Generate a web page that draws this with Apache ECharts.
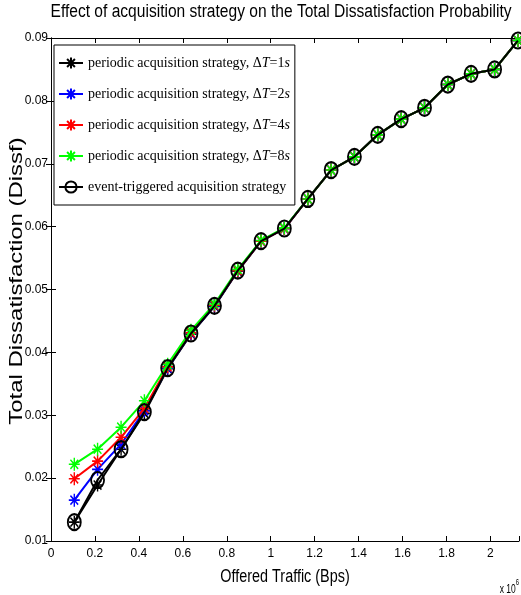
<!DOCTYPE html>
<html>
<head>
<meta charset="utf-8">
<script src="https://cdn.jsdelivr.net/npm/echarts@6/dist/echarts.min.js"></script>
<style>
  html, body { margin: 0; padding: 0; background: #fff; }
  #chart { width: 521px; height: 595px; }
</style>
</head>
<body>
<div id="chart"></div>
<script>
// offered traffic, in units of 10^6 Bps
var traffic = [0.106, 0.212, 0.319, 0.425, 0.531, 0.637, 0.744, 0.85, 0.956, 1.062,
               1.169, 1.275, 1.381, 1.487, 1.594, 1.7, 1.806, 1.912, 2.019, 2.125];

// total dissatisfaction per strategy
var periodic1 = [0.0130, 0.0189, 0.0246, 0.0303, 0.0374, 0.0429, 0.0473, 0.0529, 0.0577, 0.0597,
                 0.0644, 0.0690, 0.0711, 0.0746, 0.0771, 0.0789, 0.0826, 0.0843, 0.0850, 0.0896];
var periodic2 = [0.0165, 0.0214, 0.0254, 0.0307, 0.0375, 0.0430, 0.0474, 0.0530, 0.0577, 0.0597,
                 0.0644, 0.0690, 0.0711, 0.0746, 0.0771, 0.0789, 0.0826, 0.0843, 0.0850, 0.0896];
var periodic4 = [0.0199, 0.0227, 0.0265, 0.0311, 0.0377, 0.0431, 0.0475, 0.0530, 0.0577, 0.0597,
                 0.0644, 0.0690, 0.0711, 0.0746, 0.0771, 0.0789, 0.0826, 0.0843, 0.0850, 0.0896];
var periodic8 = [0.0222, 0.0246, 0.0281, 0.0323, 0.0381, 0.0435, 0.0477, 0.0532, 0.0578, 0.0598,
                 0.0644, 0.0690, 0.0711, 0.0746, 0.0771, 0.0789, 0.0826, 0.0843, 0.0850, 0.0896];
var eventTrig = [0.0130, 0.0197, 0.0246, 0.0305, 0.0375, 0.0430, 0.0474, 0.0530, 0.0577, 0.0597,
                 0.0644, 0.0690, 0.0711, 0.0746, 0.0771, 0.0789, 0.0826, 0.0843, 0.0850, 0.0896];

var seriesNames = [
  'periodic acquisition strategy, ΔT=1s',
  'periodic acquisition strategy, ΔT=2s',
  'periodic acquisition strategy, ΔT=4s',
  'periodic acquisition strategy, ΔT=8s',
  'event-triggered acquisition strategy'
];
var seriesColors = ['#000000', '#0000ff', '#ff0000', '#00ff00', '#000000'];
var seriesValues = [periodic1, periodic2, periodic4, periodic8, eventTrig];

var xTickLabels = ['0', '0.2', '0.4', '0.6', '0.8', '1', '1.2', '1.4', '1.6', '1.8', '2'];
var yTickLabels = ['0.01', '0.02', '0.03', '0.04', '0.05', '0.06', '0.07', '0.08', '0.09'];

var star = 'path://M5,0L5,10M0,5L10,5M1.5,1.5L8.5,8.5M1.5,8.5L8.5,1.5';
var sans = '"Liberation Sans", Arial, sans-serif';

function pairs(vals) {
  var out = [];
  for (var i = 0; i < vals.length; i++) out.push([traffic[i], vals[i]]);
  return out;
}

var series = [];
for (var k = 0; k < seriesValues.length; k++) {
  var isEvent = k === 4;
  series.push({
    name: seriesNames[k],
    type: 'line',
    data: pairs(seriesValues[k]),
    symbol: isEvent ? 'circle' : star,
    symbolSize: isEvent ? [13, 16] : [11, 13],
    lineStyle: { color: seriesColors[k], width: 2 },
    itemStyle: { color: 'rgba(0,0,0,0)', borderColor: seriesColors[k], borderWidth: isEvent ? 2 : 1.5 },
    emphasis: { disabled: true },
    clip: false,
    z: 2 + k
  });
}

function xLabel(v) {
  var i = Math.round(v / 0.2);
  if (Math.abs(v - i * 0.2) > 1e-6) return '';
  return xTickLabels[i] || '';
}
function yLabel(v) {
  var i = Math.round((v - 0.01) / 0.01);
  return yTickLabels[i] || '';
}

var axisCommon = {
  axisLine: { show: true, lineStyle: { color: '#000', width: 1 } },
  axisTick: { show: true, inside: true, length: 5, lineStyle: { color: '#000' } },
  splitLine: { show: false }
};

var chart = echarts.init(document.getElementById('chart'));
chart.setOption({
  animation: false,
  backgroundColor: '#fff',
  grid: { left: 51, right: 2, top: 38, bottom: 54, outerBoundsMode: 'none', containLabel: false },
  xAxis: [
    Object.assign({
      type: 'value', min: 0, max: 2.13, interval: 0.2, position: 'bottom',
      axisLabel: { formatter: xLabel, color: '#000', fontFamily: sans, fontSize: 12, margin: 7 }
    }, axisCommon),
    Object.assign({
      type: 'value', min: 0, max: 2.13, interval: 0.2, position: 'top',
      axisLabel: { show: false }
    }, axisCommon)
  ],
  yAxis: [
    Object.assign({
      type: 'value', min: 0.01, max: 0.09, interval: 0.01, position: 'left',
      axisLabel: { formatter: yLabel, color: '#000', fontFamily: sans, fontSize: 12, margin: 3 }
    }, axisCommon),
    Object.assign({
      type: 'value', min: 0.01, max: 0.09, interval: 0.01, position: 'right',
      axisLabel: { show: false }
    }, axisCommon)
  ],
  legend: {
    orient: 'vertical',
    left: 54, top: 45,
    padding: [11, 5, 11, 4],
    itemWidth: 24, itemHeight: 14, itemGap: 17,
    backgroundColor: '#fff',
    borderColor: '#000', borderWidth: 1, borderRadius: 0,
    selectedMode: false,
    data: seriesNames,
    formatter: function (name) {
      return name.replace(/ΔT=(\d)s/, 'Δ{i|T}=$1{i|s}');
    },
    textStyle: {
      color: '#000', fontFamily: '"Liberation Serif", "DejaVu Serif", serif', fontSize: 14,
      rich: { i: { fontStyle: 'italic', fontFamily: '"Liberation Serif", serif', fontSize: 14, color: '#000' } }
    }
  },
  graphic: [
    {
      type: 'text', x: 281, y: 12, scaleX: 0.865,
      style: {
        text: 'Effect of acquisition strategy on the Total Dissatisfaction Probability',
        fill: '#000', font: '18px ' + sans, textAlign: 'center', textVerticalAlign: 'middle'
      }
    },
    {
      type: 'text', x: 285, y: 577, scaleX: 0.8,
      style: {
        text: 'Offered Traffic (Bps)',
        fill: '#000', font: '18px ' + sans, textAlign: 'center', textVerticalAlign: 'middle'
      }
    },
    {
      type: 'text', x: 17, y: 281, rotation: Math.PI / 2, scaleX: 1.26,
      style: {
        text: 'Total Dissatisfaction (Dissf)',
        fill: '#000', font: '19px ' + sans, textAlign: 'center', textVerticalAlign: 'middle'
      }
    },
    {
      type: 'text', x: 519, y: 578, scaleX: 0.65,
      style: {
        text: '{a|x 10}{s|6}',
        align: 'right',
        rich: {
          a: { fontFamily: sans, fontSize: 13, color: '#000', padding: [5, 0, 0, 0] },
          s: { fontFamily: sans, fontSize: 9, color: '#000', verticalAlign: 'top' }
        }
      }
    }
  ],
  series: series
});
</script>
</body>
</html>
